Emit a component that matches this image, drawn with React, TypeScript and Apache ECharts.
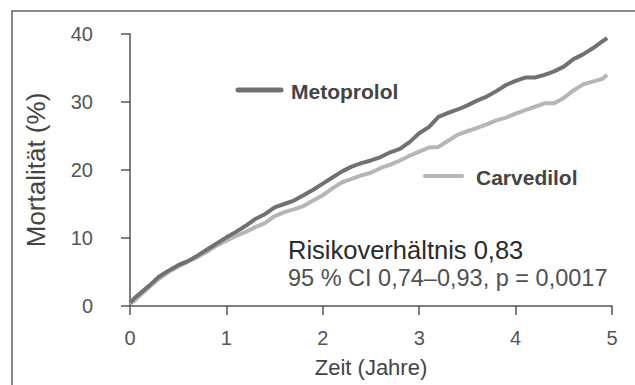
import React, { useEffect, useRef } from "react";
import * as echarts from "echarts";

const years = [0, 0.05, 0.1, 0.2, 0.3, 0.4, 0.5, 0.6, 0.7, 0.8, 0.9, 1.0, 1.1, 1.2, 1.3, 1.4, 1.5, 1.6, 1.7, 1.8, 1.9, 2.0, 2.1, 2.2, 2.3, 2.4, 2.5, 2.6, 2.7, 2.8, 2.9, 3.0, 3.1, 3.2, 3.3, 3.4, 3.5, 3.6, 3.7, 3.8, 3.9, 4.0, 4.1, 4.2, 4.3, 4.4, 4.5, 4.6, 4.7, 4.8, 4.9, 4.95];

const metoprolol = [0.5, 1.2, 1.8, 3.0, 4.3, 5.2, 6.0, 6.6, 7.4, 8.3, 9.2, 10.1, 10.9, 11.8, 12.8, 13.5, 14.5, 15.0, 15.5, 16.3, 17.1, 18.0, 18.9, 19.8, 20.5, 21.0, 21.4, 21.9, 22.6, 23.1, 24.1, 25.4, 26.3, 27.8, 28.4, 28.9, 29.5, 30.2, 30.8, 31.6, 32.5, 33.1, 33.6, 33.6, 34.0, 34.5, 35.2, 36.3, 37.0, 37.9, 38.9, 39.4];

const carvedilol = [0.3, 0.8, 1.5, 2.8, 4.0, 5.0, 5.8, 6.5, 7.2, 8.0, 8.9, 9.6, 10.3, 10.9, 11.6, 12.2, 13.2, 13.8, 14.2, 14.7, 15.5, 16.3, 17.3, 18.2, 18.7, 19.2, 19.6, 20.3, 20.8, 21.4, 22.1, 22.7, 23.3, 23.4, 24.3, 25.2, 25.7, 26.2, 26.7, 27.3, 27.7, 28.3, 28.8, 29.3, 29.8, 29.8, 30.6, 31.7, 32.6, 33.0, 33.4, 34.0];

const seriesNames = ["Metoprolol", "Carvedilol"];
const annotationLines = ["Risikoverhältnis 0,83", "95 % CI 0,74–0,93, p = 0,0017"];
const xAxisTitle = "Zeit (Jahre)";
const yAxisTitle = "Mortalität (%)";

const FONT = "'Liberation Sans', Arial, Helvetica, sans-serif";
const DARK = "#717171";
const LIGHT = "#b6b6b6";

export default function App() {
  const ref = useRef<HTMLDivElement>(null);
  useEffect(() => {
    if (!ref.current) return;
    const chart = echarts.init(ref.current, null, { renderer: "svg" });
    const toPairs = (vals: number[]) => years.map((t, i) => [t, vals[i]]);
    chart.setOption({
      animation: false,
      backgroundColor: "#ffffff",
      textStyle: { fontFamily: FONT },
      grid: { left: 130, right: 23, top: 34, bottom: 79 },
      xAxis: {
        type: "value",
        min: 0,
        max: 5,
        interval: 1,
        offset: 9,
        name: xAxisTitle,
        nameLocation: "middle",
        nameGap: 41,
        nameTextStyle: { fontSize: 22, color: "#444", fontFamily: FONT },
        axisLine: { show: true, lineStyle: { color: "#555", width: 1.5 } },
        axisTick: { show: true, length: 9, lineStyle: { color: "#555", width: 1.5 } },
        axisLabel: { fontSize: 20, color: "#555", margin: 13, fontFamily: FONT },
        splitLine: { show: false },
      },
      yAxis: {
        type: "value",
        min: 0,
        max: 40,
        interval: 10,
        offset: 20,
        name: yAxisTitle,
        nameLocation: "middle",
        nameGap: 61,
        nameTextStyle: { fontSize: 26, color: "#444", fontFamily: FONT },
        axisLine: { show: true, lineStyle: { color: "#555", width: 1.5 } },
        axisTick: { show: true, length: 9, lineStyle: { color: "#555", width: 1.5 } },
        axisLabel: { fontSize: 20, color: "#555", margin: 17, fontFamily: FONT },
        splitLine: { show: false },
      },
      series: [
        {
          name: seriesNames[1],
          type: "line",
          data: toPairs(carvedilol),
          showSymbol: false,
          lineStyle: { color: LIGHT, width: 4 },
        },
        {
          name: seriesNames[0],
          type: "line",
          data: toPairs(metoprolol),
          showSymbol: false,
          lineStyle: { color: DARK, width: 4 },
        },
      ],
      graphic: [
        {
          type: "rect",
          shape: { x: 12, y: 11, width: 640, height: 400 },
          style: { fill: "none", stroke: "#666", lineWidth: 1.5 },
          silent: true,
        },
        {
          type: "line",
          shape: { x1: 238, y1: 90, x2: 281, y2: 90 },
          style: { stroke: DARK, lineWidth: 5, lineCap: "round" },
        },
        {
          type: "text",
          x: 291,
          y: 91,
          style: { text: seriesNames[0], font: `bold 21px ${FONT}`, fill: "#444", verticalAlign: "middle" },
        },
        {
          type: "line",
          shape: { x1: 425, y1: 176, x2: 462, y2: 176 },
          style: { stroke: LIGHT, lineWidth: 4, lineCap: "round" },
        },
        {
          type: "text",
          x: 476,
          y: 177,
          style: { text: seriesNames[1], font: `bold 21px ${FONT}`, fill: "#444", verticalAlign: "middle" },
        },
        {
          type: "text",
          x: 288,
          y: 250,
          style: { text: annotationLines[0], font: `25.5px ${FONT}`, fill: "#2a2a2a", verticalAlign: "middle" },
        },
        {
          type: "text",
          x: 288,
          y: 278,
          style: { text: annotationLines[1], font: `23.5px ${FONT}`, fill: "#505050", verticalAlign: "middle" },
        },
      ],
    });
    return () => chart.dispose();
  }, []);
  return (
    <div
      ref={ref}
      style={{ position: "fixed", left: 0, top: 0, width: 635, height: 385 }}
    />
  );
}
